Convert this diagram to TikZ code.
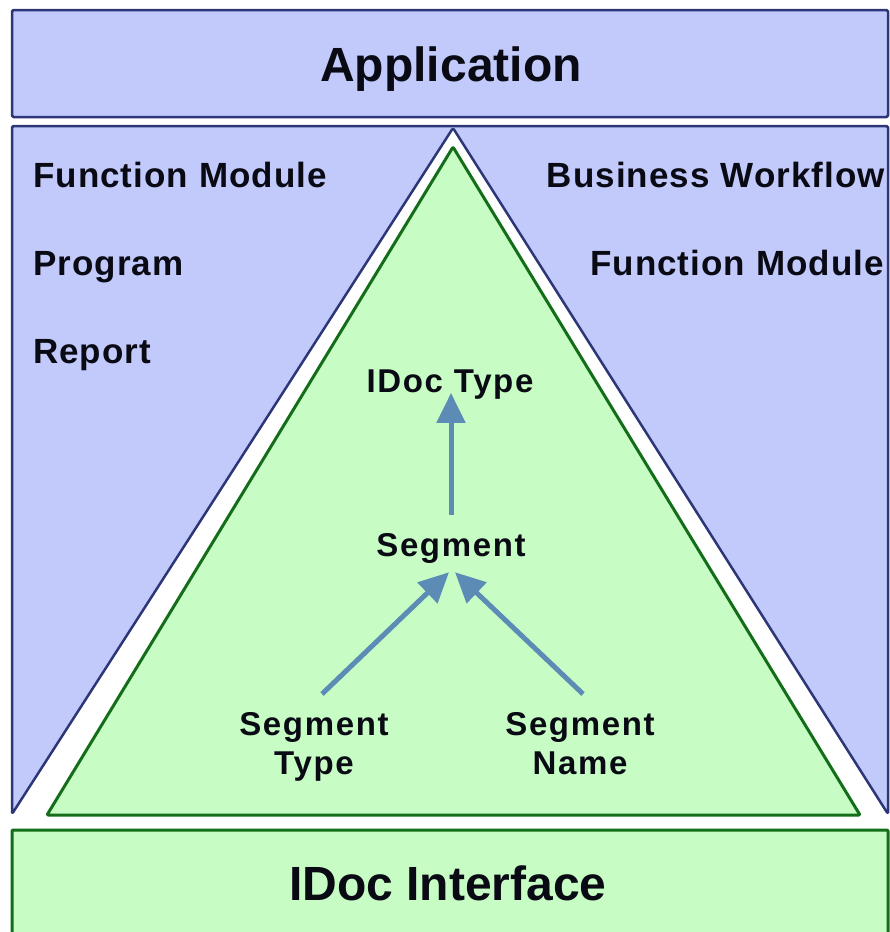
\documentclass[tikz,border=0pt]{standalone}
\usepackage{fontspec}
\setmainfont{Liberation Sans}
\newfontfamily\bigfont{Liberation Sans}
\newfontfamily\outfont{Liberation Sans}[LetterSpace=3]
\newfontfamily\infont{Liberation Sans}[LetterSpace=5]
\usetikzlibrary{arrows.meta}

\definecolor{panelblue}{RGB}{193,202,250}
\definecolor{edgeblue}{RGB}{45,55,120}
\definecolor{panelgreen}{RGB}{199,253,197}
\definecolor{edgegreen}{RGB}{20,110,25}
\definecolor{arrowblue}{RGB}{92,140,182}
\definecolor{inkblack}{RGB}{10,10,20}

\tikzset{
  bluepanel/.style={fill=panelblue, draw=edgeblue, line width=2.5pt, line join=round, rounded corners=1.5pt},
  greenpanel/.style={fill=panelgreen, draw=edgegreen, line width=3pt, line join=round, rounded corners=1pt},
  titlelabel/.style={inner sep=0pt, text=inkblack, font=\bigfont\bfseries\fontsize{48}{56}\selectfont},
  sidelabel/.style={inner sep=0pt, text=inkblack, font=\outfont\bfseries\fontsize{35}{42}\selectfont},
  innerlabel/.style={inner sep=0pt, text=inkblack, align=center, font=\infont\bfseries\fontsize{33}{39}\selectfont},
  flow/.style={draw=arrowblue, line width=5pt, -{Triangle[length=30pt, width=28pt]}}
}

\begin{document}
\begin{tikzpicture}[x=1pt, y=-1pt]
  \path[use as bounding box, clip] (0,0) rectangle (890,932);

  % Application layer
  \draw[bluepanel] (12,10) rectangle (888,117);
  \node[titlelabel, anchor=base] (app) at (451,81) {Application};

  % Blue panel with a V-shaped opening for the IDoc triangle
  \draw[bluepanel] (12,126) -- (888,126) -- (888,814) -- (453,128) -- (12,814) -- cycle;

  % IDoc triangle
  \draw[greenpanel] (453,147) -- (860,815) -- (47,815) -- cycle;

  % IDoc interface layer
  \draw[greenpanel] (12,830) rectangle (888,950);
  \node[titlelabel, anchor=base] (iface) at (448,900) {IDoc Interface};

  % Callers on the left
  \node[sidelabel, anchor=base west] (fmleft) at (33,187) {Function Module};
  \node[sidelabel, anchor=base west] (prog) at (33,275) {Program};
  \node[sidelabel, anchor=base west] (rep) at (33,363) {Report};

  % Callers on the right
  \node[sidelabel, anchor=base east] (bwf) at (885,187) {Business Workflow};
  \node[sidelabel, anchor=base east] (fmright) at (884,275) {Function Module};

  % IDoc structure
  \node[innerlabel, anchor=north] (idoctype) at (450,370) {IDoc Type};
  \node[innerlabel, anchor=north] (seg) at (451,533) {Segment};
  \node[innerlabel, anchor=north] (segtype) at (314,712) {Segment\\Type};
  \node[innerlabel, anchor=north] (segname) at (580,712) {Segment\\Name};

  \draw[flow, shorten <=18pt] (seg.north) -- (seg.north |- idoctype.base);
  \draw[flow] ([xshift=8pt, yshift=18pt]segtype.north) -- ([xshift=-2pt, yshift=-16pt]seg.base);
  \draw[flow] ([xshift=3pt, yshift=18pt]segname.north) -- ([xshift=4pt, yshift=-16pt]seg.base);
\end{tikzpicture}
\end{document}
